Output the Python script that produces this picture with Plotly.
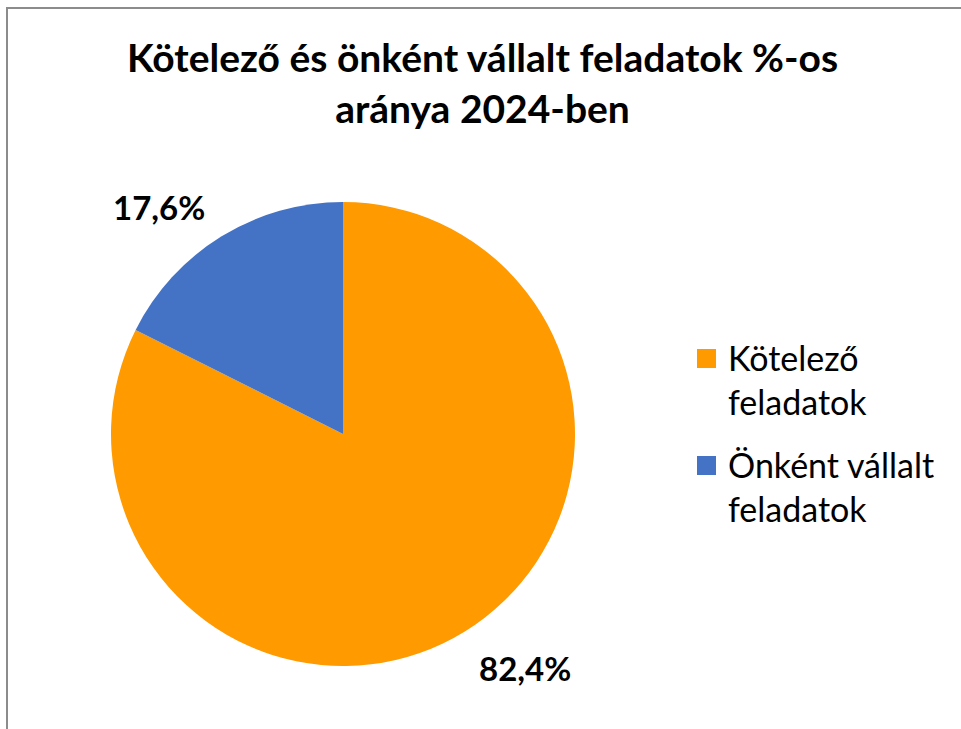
import plotly.graph_objects as go

labels = ["Kötelező<br>feladatok", "Önként vállalt<br>feladatok"]
values = [82.4, 17.6]
colors = ["#FF9A00", "#4472C4"]
title_text = "Kötelező és önként vállalt feladatok %-os<br>aránya 2024-ben"

W, H = 961, 729
cx, cy, r = 343, 434, 232

def px(x):
    return x / W

def py(y):
    return 1 - y / H

fig = go.Figure(go.Pie(
    labels=labels,
    values=values,
    sort=False,
    direction="clockwise",
    rotation=0,
    marker=dict(colors=colors, line=dict(width=0)),
    textinfo="none",
    hoverinfo="label+percent",
    showlegend=False,
    domain=dict(x=[px(cx - r), px(cx + r)], y=[py(cy + r), py(cy - r)]),
))

# data labels
fmt = lambda v: f"{v:.1f}".replace(".", ",") + "%"
label_pos = [(525, 668), (159, 207)]
for v, (x, y) in zip(values, label_pos):
    fig.add_annotation(x=px(x), y=py(y), xref="paper", yref="paper",
                       text=fmt(v), showarrow=False,
                       font=dict(family="Lato", size=33, color="#000000", weight="bold"),
                       xanchor="center", yanchor="middle")

# title
fig.add_annotation(x=px(483), y=py(83), xref="paper", yref="paper",
                   text=title_text, showarrow=False,
                   font=dict(family="Lato", size=39, color="#000000", weight="bold"),
                   xanchor="center", yanchor="middle", align="center")

# legend (drawn as shapes + text)
legend_item_top = [349, 456]
sq = 19
for lab, col, top in zip(labels, colors, legend_item_top):
    fig.add_shape(type="rect", xref="paper", yref="paper",
                  x0=px(697), x1=px(697 + sq), y0=py(top + sq), y1=py(top),
                  line=dict(width=0), fillcolor=col)
    fig.add_annotation(x=px(726), y=py(top - 14), xref="paper", yref="paper",
                       text=lab, showarrow=False, align="left",
                       font=dict(family="Lato", size=34, color="#000000"),
                       xanchor="left", yanchor="top")

# chart border
fig.add_shape(type="rect", xref="paper", yref="paper",
              x0=px(7), y0=py(800), x1=px(1050), y1=py(8),
              line=dict(color="#8C8C8C", width=2), fillcolor="rgba(0,0,0,0)")

fig.update_layout(
    width=W, height=H,
    margin=dict(l=0, r=0, t=0, b=0),
    paper_bgcolor="white",
    plot_bgcolor="white",
    showlegend=False,
)

fig.write_html("out.html", config={"displayModeBar": False},
               post_script="document.body.style.margin='0';document.body.style.overflow='hidden';")
